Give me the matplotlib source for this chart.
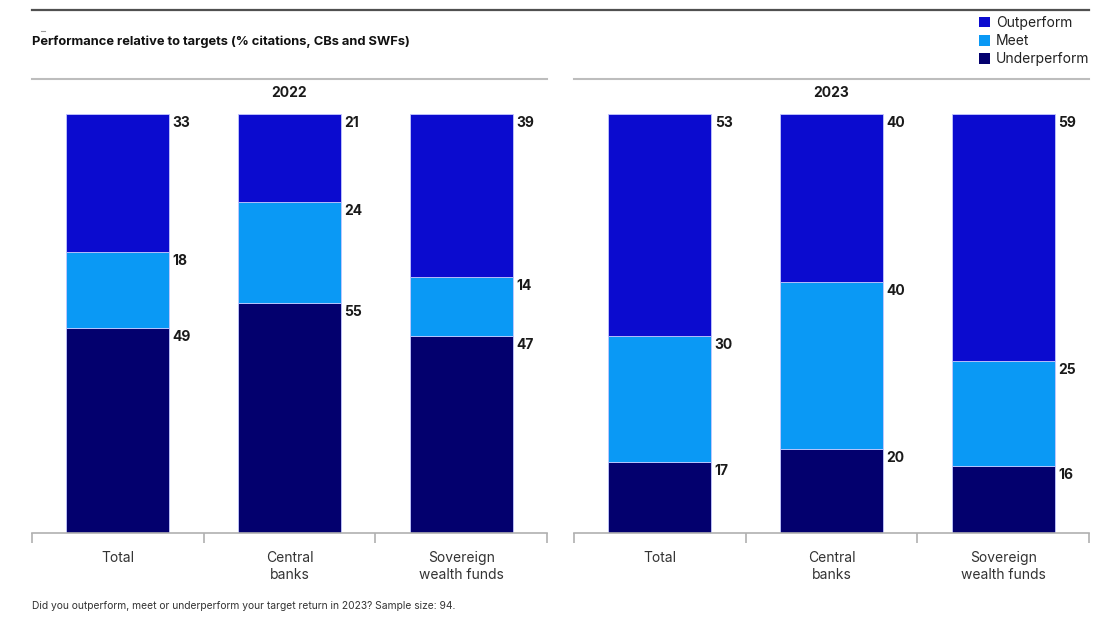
import matplotlib
matplotlib.use("Agg")
import matplotlib.pyplot as plt
from matplotlib.lines import Line2D
from matplotlib.patches import Patch
import numpy as np

# Data: % of citations, central banks (CBs) and sovereign wealth funds (SWFs)
categories = ["Total", "Central\nbanks", "Sovereign\nwealth funds"]
years = ["2022", "2023"]
series_names = ["Outperform", "Meet", "Underperform"]

underperform_2022 = [49, 55, 47]
meet_2022 = [18, 24, 14]
outperform_2022 = [33, 21, 39]

underperform_2023 = [17, 20, 16]
meet_2023 = [30, 40, 25]
outperform_2023 = [53, 40, 59]

colors = {"Outperform": "#0b0bcf", "Meet": "#0a99f5", "Underperform": "#03006e"}

plt.rcParams["font.family"] = ["Inter", "DejaVu Sans"]

W, H = 1105, 626
fig = plt.figure(figsize=(W / 100, H / 100), dpi=100)


def fx(px):
    return px / W


def fy(py):
    return 1 - py / H


panel_x = [(32, 547), (574, 1089)]
axis_bottom, bar_top = 533, 114

panels = [
    (underperform_2022, meet_2022, outperform_2022),
    (underperform_2023, meet_2023, outperform_2023),
]

for (x0, x1), year, (under, meet, out) in zip(panel_x, years, panels):
    ax = fig.add_axes([fx(x0), fy(axis_bottom), fx(x1 - x0), fy(bar_top) - fy(axis_bottom)])
    x = np.arange(len(categories))
    bottom = np.zeros(len(categories))
    for name, vals in zip(["Underperform", "Meet", "Outperform"], [under, meet, out]):
        ax.bar(x, vals, width=0.6, bottom=bottom, color=colors[name],
               edgecolor="#c4c8ff", linewidth=0.6, zorder=2)
        for xi, b, v in zip(x, bottom, vals):
            ax.annotate(f"{v}", xy=(xi + 0.3, b + v), xytext=(2.5, -1.5),
                        textcoords="offset points", ha="left", va="top",
                        fontsize=10, fontweight="bold", color="#1a1a1a")
        bottom = bottom + np.array(vals)

    ax.set_xlim(-0.5, 2.5)
    ax.set_ylim(0, 100)
    for s in ["top", "left", "right"]:
        ax.spines[s].set_visible(False)
    ax.spines["bottom"].set_color("#b0b0b0")
    ax.spines["bottom"].set_linewidth(1.2)
    ax.set_yticks([])
    ax.set_xticks(x)
    ax.set_xticklabels(categories, fontsize=10, color="#333333", linespacing=1.25)
    ax.tick_params(axis="x", which="major", length=0, pad=13)
    ax.set_xticks([-0.5, 0.5, 1.5, 2.5], minor=True)
    ax.tick_params(axis="x", which="minor", length=7, width=1.2, color="#b0b0b0", direction="out")

    # Panel header rule and year label
    fig.add_artist(Line2D([fx(x0), fx(x1)], [fy(79), fy(79)], color="#bdbdbd", linewidth=1.5))
    fig.text(fx((x0 + x1) / 2), fy(93), year, ha="center", va="center",
             fontsize=10, fontweight="bold", color="#1a1a1a")

# Top rule and title
fig.add_artist(Line2D([fx(32), fx(1089)], [fy(10), fy(10)], color="#505050", linewidth=1.6))
fig.add_artist(Line2D([fx(41), fx(45)], [fy(31), fy(31)], color="#9a9a9a", linewidth=0.8))
fig.text(fx(32), fy(42), "Performance relative to targets (% citations, CBs and SWFs)",
         ha="left", va="center", fontsize=9.3, fontweight="bold", color="#111111")

# Legend
handles = [Patch(facecolor=colors[n], edgecolor="none") for n in series_names]
fig.legend(handles, series_names, loc="upper left", bbox_to_anchor=(fx(979), fy(16)),
           frameon=False, fontsize=10, handlelength=0.8, handleheight=0.8,
           handletextpad=0.4, labelspacing=0.3, borderaxespad=0, borderpad=0,
           labelcolor="#222222")

# Footnote
fig.text(fx(32), fy(606), "Did you outperform, meet or underperform your target return in 2023? Sample size: 94.",
         ha="left", va="center", fontsize=7.4, color="#333333")

fig.savefig("out.png", dpi=100)
